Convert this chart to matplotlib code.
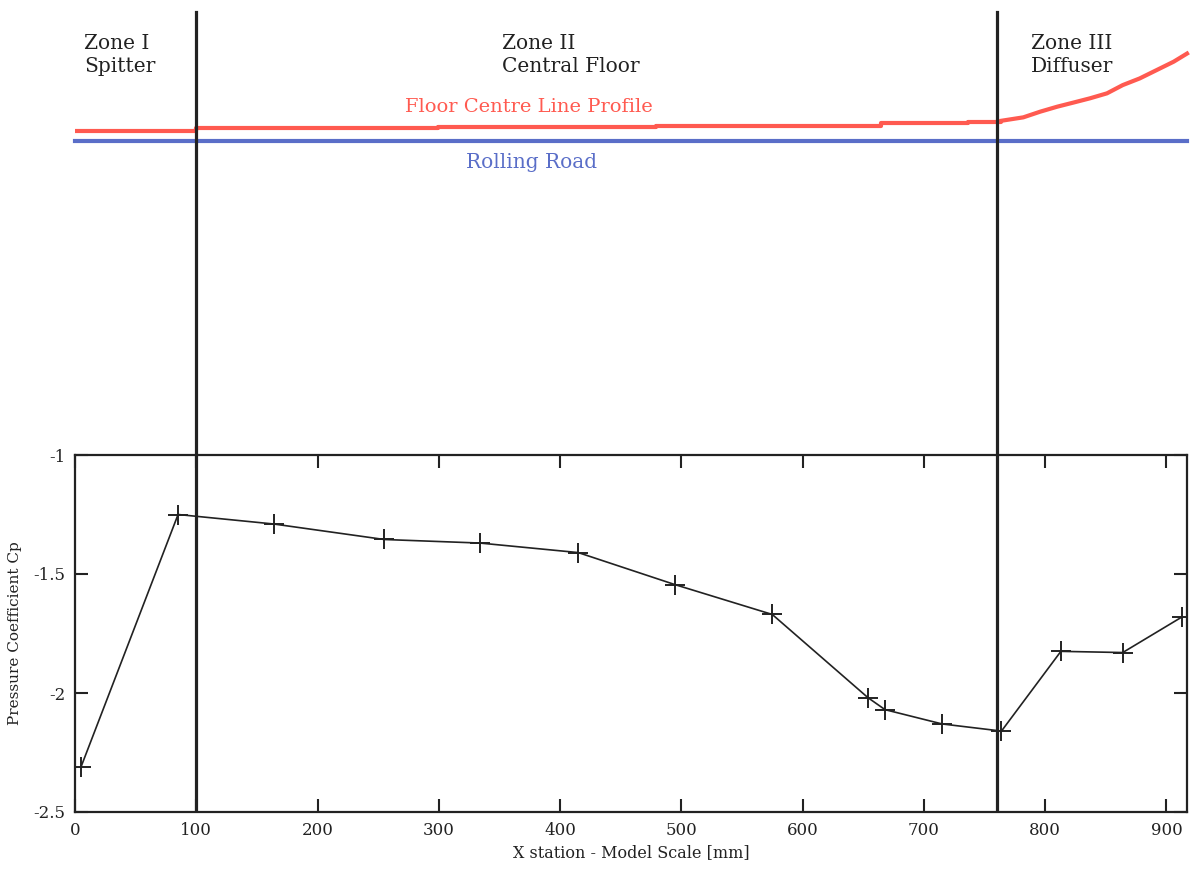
import matplotlib
matplotlib.use("Agg")
import matplotlib.pyplot as plt

# pressure coefficient along the floor centre line
x_station = [5, 85, 164, 255, 334, 415, 495, 575, 654, 668, 715, 764, 813, 864, 913]
cp = [-2.31, -1.25, -1.29, -1.355, -1.37, -1.41, -1.545, -1.67, -2.02, -2.07,
      -2.13, -2.16, -1.825, -1.83, -1.68]

# floor centre line profile (height above rolling road, mm)
floor_x = [0, 100, 299, 479, 665, 736, 764]
floor_h = [8.5, 10.5, 11.8, 12.6, 14.6, 15.9, 16.7]
diffuser_x = [764, 782, 796, 810, 823, 837, 851, 864, 878, 892, 906, 917]
diffuser_h = [16.7, 19.5, 24.2, 28.3, 31.6, 35.2, 39.3, 46.1, 51.6, 58.5, 65.4, 72.1]

zone_edges = [100, 760]
x_max = 917

RED = "#ff5a50"
BLUE = "#5a6ec8"
DARK = "#222222"

plt.rcParams['font.family'] = ['DejaVu Serif']

fig = plt.figure(figsize=(11.92, 8.69), dpi=100)
W, H = 1192, 869
left, right = 75, 1187
ax = fig.add_axes([left / W, (H - 812) / H, (right - left) / W, (812 - 455) / H])
top = fig.add_axes([left / W, (H - 455) / H, (right - left) / W, 455 / H])

# ---- top sketch of the car floor ----
px_per_mm = (right - left) / x_max
top.set_xlim(0, x_max)
top.set_ylim(-(455 - 141) / px_per_mm, 141 / px_per_mm)
top.axis("off")

top.plot(floor_x + [diffuser_x[0]], floor_h + [floor_h[-1]], color=RED, lw=3,
         drawstyle="steps-post", solid_capstyle="butt", clip_on=False)
top.plot(diffuser_x, diffuser_h, color=RED, lw=3, clip_on=False)
top.plot([0, x_max], [0, 0], color=BLUE, lw=3, clip_on=False)

for xe in zone_edges:
    top.axvline(xe, ymin=0, ymax=(455 - 12) / 455, color=DARK, lw=2.3)
    ax.axvline(xe, color=DARK, lw=2.3)

def mm(px):
    return (141 - px) / px_per_mm

def xmm(px):
    return (px - left) / px_per_mm

zone_font = dict(fontsize=14.5, color=DARK, va="top", ha="left", linespacing=1.3)
top.text(xmm(84), mm(34), "Zone I\nSpitter", **zone_font)
top.text(xmm(502), mm(34), "Zone II\nCentral Floor", **zone_font)
top.text(xmm(1031), mm(34), "Zone III\nDiffuser", **zone_font)
top.text(xmm(405), mm(107), "Floor Centre Line Profile", color=RED, fontsize=14,
         ha="left", va="center")
top.text(xmm(466), mm(163), "Rolling Road", color=BLUE, fontsize=14.5,
         ha="left", va="center")

# ---- Cp plot ----
ax.plot(x_station, cp, color=DARK, lw=1.2, marker="+", markersize=14,
        markeredgewidth=1.4)
ax.set_xlim(0, x_max)
ax.set_ylim(-2.5, -1)
ax.set_xticks(range(0, 1000, 100))
ax.set_yticks([-1, -1.5, -2, -2.5])
ax.set_yticklabels(["-1", "-1.5", "-2", "-2.5"])
ax.tick_params(direction="in", length=9.5, width=1.5, top=True, right=True,
               labelsize=12, colors=DARK, pad=7)
for s in ax.spines.values():
    s.set_linewidth(1.6)
    s.set_color(DARK)
ax.set_xlabel("X station - Model Scale [mm]", fontsize=11.5, color=DARK, labelpad=4)
ax.set_ylabel("Pressure Coefficient Cp", fontsize=11, color=DARK, labelpad=8)

fig.savefig("out.png", dpi=100)
